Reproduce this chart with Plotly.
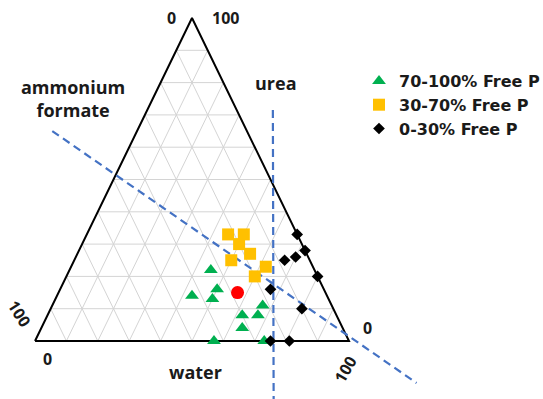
import plotly.graph_objects as go

# ---------------- data (percent: water, urea, ammonium formate) ----------------
HIGH_NAME = "70-100% Free P"
HIGH_WATER = [45, 50, 43, 50, 67, 67, 62, 64, 57, 73]
HIGH_UREA = [22, 16, 14, 13, 11, 8, 8, 4, 0, 0]
HIGH_AF = [33, 34, 43, 37, 22, 25, 30, 32, 43, 27]

MID_NAME = "30-70% Free P"
MID_WATER = [45, 50, 50, 55, 50, 62, 60]
MID_UREA = [33, 33, 30, 27, 25, 23, 20]
MID_AF = [22, 17, 20, 18, 25, 15, 20]

LOW_NAME = "0-30% Free P"
LOW_WATER = [67, 72, 67, 70, 80, 67, 80, 75, 81]
LOW_UREA = [33, 28, 25, 26, 20, 16, 10, 0, 0]
LOW_AF = [0, 0, 8, 4, 0, 17, 10, 25, 19]

REF_WATER = [57]
REF_UREA = [15]
REF_AF = [28]

# dashed guide lines (start, end) in the same composition space
GUIDE1_WATER = [-27, 128]
GUIDE1_UREA = [65, -13]
GUIDE1_AF = [62, -15]
GUIDE2_WATER = [40, 85]
GUIDE2_UREA = [71.5, -18]
GUIDE2_AF = [-11.5, 33]

GRID_STEPS = [10, 20, 30, 40, 50, 60, 70, 80, 90]
TICK_LABELS = ["0", "100"]
AXIS_TITLES = ["ammonium<br>formate", "urea", "water"]

# ---------------- layout constants (pixel space) ----------------
W_PX, H_PX = 543, 399
V_AF = (35.0, 341.0)      # corner: 100 % ammonium formate
V_UREA = (192.0, 18.0)    # corner: 100 % urea
V_WATER = (349.0, 341.0)  # corner: 100 % water
FONT = "Open Sans"


def to_xy(water, urea, af):
    xs, ys = [], []
    for w, u, a in zip(water, urea, af):
        if w is None:
            xs.append(None)
            ys.append(None)
            continue
        w, u, a = w / 100.0, u / 100.0, a / 100.0
        xs.append(a * V_AF[0] + u * V_UREA[0] + w * V_WATER[0])
        ys.append(a * V_AF[1] + u * V_UREA[1] + w * V_WATER[1])
    return xs, ys


fig = go.Figure()

# grid lines
gw, gu, ga = [], [], []
for s in GRID_STEPS:
    r = 100 - s
    # constant urea
    gw += [0, r, None]; gu += [s, s, None]; ga += [r, 0, None]
    # constant water
    gw += [s, s, None]; gu += [0, r, None]; ga += [r, 0, None]
    # constant ammonium formate
    gw += [0, r, None]; gu += [r, 0, None]; ga += [s, s, None]
gx, gy = to_xy(gw, gu, ga)
fig.add_trace(go.Scatter(x=gx, y=gy, mode="lines",
                         line=dict(color="#d4d4d4", width=1),
                         hoverinfo="skip", showlegend=False))

# outline
ox, oy = to_xy([0, 0, 100, 0], [0, 100, 0, 0], [100, 0, 0, 100])
fig.add_trace(go.Scatter(x=ox, y=oy, mode="lines",
                         line=dict(color="black", width=2),
                         hoverinfo="skip", showlegend=False))

# dashed guides
for gwat, gure, gaf in [(GUIDE1_WATER, GUIDE1_UREA, GUIDE1_AF),
                        (GUIDE2_WATER, GUIDE2_UREA, GUIDE2_AF)]:
    lx, ly = to_xy(gwat, gure, gaf)
    fig.add_trace(go.Scatter(x=lx, y=ly, mode="lines",
                             line=dict(color="#4472C4", width=2.2, dash="8px,5px"),
                             hoverinfo="skip", showlegend=False))

# data series
series = [
    (HIGH_NAME, HIGH_WATER, HIGH_UREA, HIGH_AF, "triangle-up", "#00B050", 12, True),
    (MID_NAME, MID_WATER, MID_UREA, MID_AF, "square", "#FFC000", 12, True),
    (LOW_NAME, LOW_WATER, LOW_UREA, LOW_AF, "diamond", "black", 9, True),
    ("reference", REF_WATER, REF_UREA, REF_AF, "circle", "#FF0000", 13, False),
]
for name, w, u, a, sym, col, size, show in series:
    px, py = to_xy(w, u, a)
    fig.add_trace(go.Scatter(
        x=px, y=py, mode="markers", name=name, showlegend=show,
        marker=dict(symbol=sym, color=col, size=size, line=dict(width=0)),
        customdata=list(zip(w, u, a)),
        hovertemplate="water %{customdata[0]}%<br>urea %{customdata[1]}%"
                      "<br>ammonium formate %{customdata[2]}%<extra>" + name + "</extra>"))

# annotations: tick labels and axis titles
tick_font = dict(family=FONT, size=16, color="#1a1a1a", weight="bold")
title_font = dict(family=FONT, size=18, color="#1a1a1a", weight="bold")
ann = [
    # ammonium formate axis: 0 at apex, 100 at lower-left corner
    dict(x=V_UREA[0], y=V_UREA[1], xshift=-21, yshift=0, text=TICK_LABELS[0], textangle=0, font=tick_font),
    dict(x=V_AF[0], y=V_AF[1], xshift=-16, yshift=28, text=TICK_LABELS[1], textangle=57, font=tick_font),
    # urea axis: 100 at apex, 0 at lower-right corner
    dict(x=V_UREA[0], y=V_UREA[1], xshift=33, yshift=0, text=TICK_LABELS[1], textangle=0, font=tick_font),
    dict(x=V_WATER[0], y=V_WATER[1], xshift=18, yshift=13, text=TICK_LABELS[0], textangle=0, font=tick_font),
    # water axis: 0 at lower-left, 100 at lower-right
    dict(x=V_AF[0], y=V_AF[1], xshift=12, yshift=-18, text=TICK_LABELS[0], textangle=0, font=tick_font),
    dict(x=V_WATER[0], y=V_WATER[1], xshift=-4, yshift=-29, text=TICK_LABELS[1], textangle=-60, font=tick_font),
    # titles
    dict(x=73, y=98, text=AXIS_TITLES[0], font=title_font, textangle=0),
    dict(x=276, y=83, text=AXIS_TITLES[1], font=title_font, textangle=0),
    dict(x=195, y=372, text=AXIS_TITLES[2], font=title_font, textangle=0),
]
for a in ann:
    a.update(xref="x", yref="y", showarrow=False, xanchor="center", yanchor="middle")
fig.update_layout(annotations=ann)

fig.update_layout(
    width=W_PX, height=H_PX,
    margin=dict(l=0, r=0, t=0, b=0, pad=0, autoexpand=False),
    paper_bgcolor="white", plot_bgcolor="white",
    xaxis=dict(range=[0, W_PX], visible=False, fixedrange=True),
    yaxis=dict(range=[H_PX, 0], visible=False, fixedrange=True),
    showlegend=True,
    legend=dict(x=359 / W_PX, y=1 - 64 / H_PX, xanchor="left", yanchor="top",
                font=dict(family="DejaVu Sans", size=16, color="#1a1a1a", weight="bold"),
                bgcolor="rgba(0,0,0,0)", borderwidth=0, tracegroupgap=0),
    font=dict(family=FONT),
)

fig.write_html("out.html")
